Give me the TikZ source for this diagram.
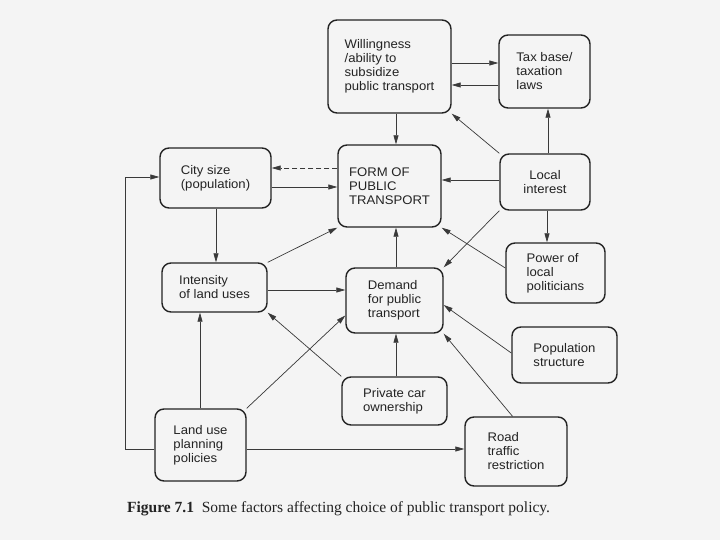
\documentclass[tikz,border=0pt]{standalone}
\usepackage{fontspec}
\setmainfont{Liberation Sans}[FakeStretch=1.05]
\newfontfamily\capfont{Liberation Serif}
\usetikzlibrary{arrows.meta,calc}
\definecolor{paper}{RGB}{244,244,244}
\definecolor{ink}{RGB}{35,35,35}
\begin{document}
\begin{tikzpicture}[x=1pt,y=-1pt,
  box/.style={draw=ink,line width=1.4pt,rounded corners=9pt,align=left,
    inner sep=0pt,font=\fontsize{12.5}{14}\selectfont,text=ink},
  arr/.style={draw=ink!90,line width=0.7pt,-{Triangle[length=9pt,width=5pt]}},
  dsh/.style={arr,dash pattern=on 5pt off 3pt}]
\fill[paper] (0,0) rectangle (720,540);
\useasboundingbox (0,0) rectangle (720,540);
% nodes
\node[box,minimum width=123,minimum height=93] (Will) at (389.5,66.5) {Willingness\\/ability to\\subsidize\\public transport};
\node[box,minimum width=91,minimum height=73] (Tax) at (544.5,71.5) {Tax base/\\taxation\\laws};
\node[box,minimum width=111,minimum height=60] (City) at (215.5,178) {City size\\(population)};
\node[box,minimum width=103,minimum height=82] (Form) at (389.5,186) {FORM OF\\PUBLIC\\TRANSPORT};
\node[box,minimum width=90,minimum height=56,align=center] (Local) at (545,182) {Local\\interest};
\node[box,minimum width=105,minimum height=49] (Inten) at (214.5,287.5) {Intensity\\of land uses};
\node[box,minimum width=97,minimum height=65] (Demand) at (394.5,300.5) {Demand\\for public\\transport};
\node[box,minimum width=99,minimum height=60] (Power) at (555.5,273) {Power of\\local\\politicians};
\node[box,minimum width=105,minimum height=56] (Pop) at (564.5,355) {Population\\structure};
\node[box,minimum width=105,minimum height=48] (Private) at (394.5,401) {Private car\\ownership};
\node[box,minimum width=91,minimum height=72] (Land) at (200.5,445) {Land use\\planning\\policies};
\node[box,minimum width=102,minimum height=69] (Road) at (516,451.5) {Road\\traffic\\restriction};
\node[anchor=base west,font=\capfont\fontsize{15.5}{18}\selectfont,text=ink,inner sep=0pt] (Cap) at (127,512) {\textbf{Figure 7.1}\ \ Some factors affecting choice of public transport policy.};
% connectors
\draw[arr] ($(Will.east)+(0,-3.5)$) -- ($(Tax.west)+(0,-8.5)$);
\draw[arr] ($(Tax.west)+(0,13.5)$) -- ($(Will.east)+(0,18.5)$);
\draw[arr] ($(Will.south)+(6.5,0)$) -- ($(Form.north)+(6.5,0)$);
\draw[arr] (Local.north west) -- (Will.south east);
\draw[arr] ($(Local.north)+(3,0)$) -- ($(Tax.south)+(3.5,0)$);
\draw[dsh] ($(Form.west)+(0,-18)$) -- ($(City.east)+(0,-10)$);
\draw[arr] ($(City.east)+(0,9)$) -- ($(Form.west)+(0,1)$);
\draw[arr] ($(Local.west)+(0,-2)$) -- ($(Form.east)+(0,-6)$);
\draw[arr] ($(City.south)+(0.5,0)$) -- ($(Inten.north)+(1.5,0)$);
\draw[arr] (Inten.north east) -- (Form.south west);
\draw[arr] ($(Demand.north)+(1.5,0)$) -- ($(Form.south)+(6.5,0)$);
\draw[arr] ($(Power.west)+(0,-5)$) -- (Form.south east);
\draw[arr] (Local.south west) -- (Demand.north east);
\draw[arr] ($(Local.south)+(2,0)$) -- ($(Power.north)+(-8.5,0)$);
\draw[arr] ($(Inten.east)+(0,2.5)$) -- ($(Demand.west)+(0,-10.5)$);
\draw[arr] (Private.north west) -- (Inten.south east);
\draw[arr] (Land.north east) -- ($(Demand.west)+(0,15)$);
\draw[arr] ($(Private.north)+(1.5,0)$) -- ($(Demand.south)+(1.5,0)$);
\draw[arr] ($(Pop.west)+(0,-2)$) -- ($(Demand.east)+(0,4.5)$);
\draw[arr] ($(Road.north)+(-3.5,0)$) -- (Demand.south east);
\draw[arr] ($(Land.north)+(-0.5,0)$) -- ($(Inten.south)+(-14.5,0)$);
\draw[arr] ($(Land.east)+(0,4)$) -- ($(Road.west)+(0,-2.5)$);
\draw[arr] ($(Land.west)+(0,4)$) -- ++(-29,0) |- ($(City.west)+(0,-1)$);
\end{tikzpicture}
\end{document}
